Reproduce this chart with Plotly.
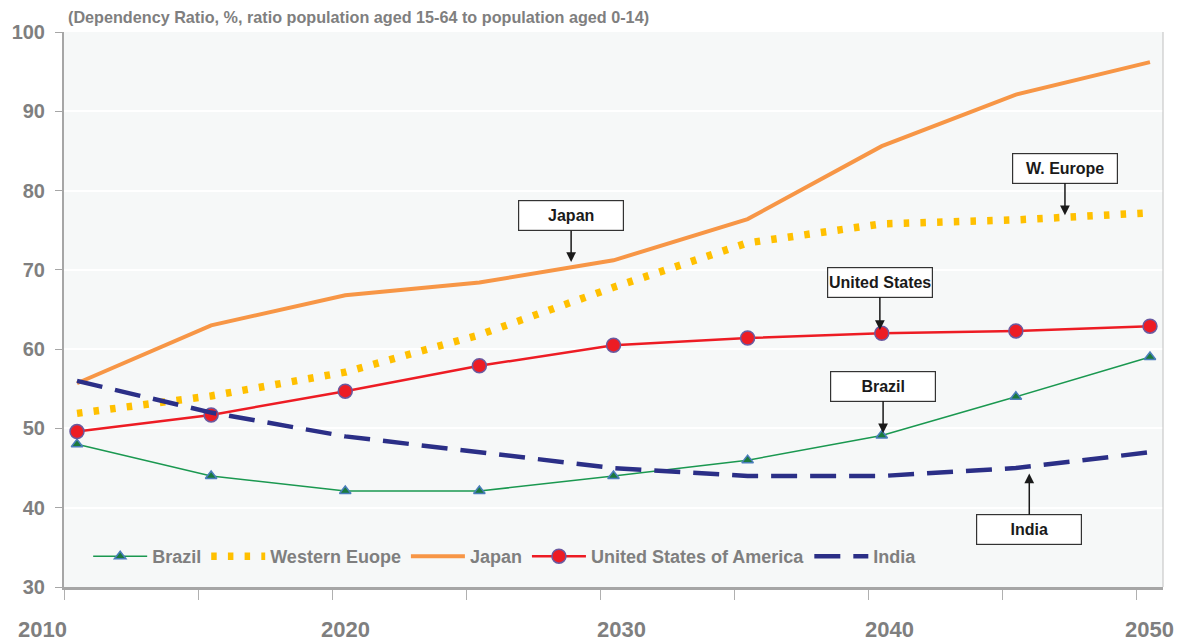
import plotly.graph_objects as go

years = [2010, 2015, 2020, 2025, 2030, 2035, 2040, 2045, 2050]
brazil = [48.0, 44.0, 42.1, 42.1, 44.0, 46.0, 49.1, 54.0, 59.0]
w_europe = [51.9, 54.1, 57.1, 61.8, 67.8, 73.4, 75.8, 76.3, 77.2]
japan = [55.7, 63.0, 66.8, 68.4, 71.2, 76.4, 85.6, 92.1, 96.2]
usa = [49.6, 51.7, 54.7, 57.9, 60.5, 61.4, 62.0, 62.3, 62.9]
india = [56.0, 52.0, 49.0, 47.0, 45.0, 44.0, 44.0, 45.0, 47.0]

year_labels = ["2010", "2020", "2030", "2040", "2050"]
year_label_pos = [2008.7, 2020.0, 2030.3, 2040.3, 2050.0]
y_ticks = [30, 40, 50, 60, 70, 80, 90, 100]

title_text = "(Dependency Ratio, %, ratio population aged 15-64 to population aged 0-14)"

callouts = [
    ("Japan", 2028.42, 71.0, -46),
    ("W. Europe", 2046.83, 76.9, -47),
    ("United States", 2039.93, 62.4, -48),
    ("Brazil", 2040.05, 49.4, -47),
    ("India", 2045.5, 44.3, 56),
]

X_MIN, X_MAX = 2009.515, 2050.485

FONT = "Liberation Sans, Arial"
GRAY = "#7f7f7f"

fig = go.Figure()
fig.add_trace(go.Scatter(
    x=years, y=brazil, name="Brazil", mode="lines+markers",
    line=dict(color="#1a9850", width=1.5),
    marker=dict(symbol="triangle-up", size=10, color="#1a7a3c",
                line=dict(color="#4a7ebb", width=1.5))))
fig.add_trace(go.Scatter(
    x=years, y=w_europe, name="Western Euope", mode="lines",
    line=dict(color="#ffc000", width=7.5, dash="5.5px,11.2px")))
fig.add_trace(go.Scatter(
    x=years, y=japan, name="Japan", mode="lines",
    line=dict(color="#f79646", width=4)))
fig.add_trace(go.Scatter(
    x=years, y=usa, name="United States of America", mode="lines+markers",
    line=dict(color="#ed1c24", width=2.5),
    marker=dict(symbol="circle", size=14, color="#ed1c24",
                line=dict(color="#6a5aa0", width=1.5))))
fig.add_trace(go.Scatter(
    x=years, y=india, name="India", mode="lines",
    line=dict(color="#2b2f87", width=4.5, dash="26px,13px")))

for text, x, y, ay in callouts:
    fig.add_annotation(
        x=x, y=y, xref="x", yref="y", text="<b>" + text + "</b>",
        showarrow=True, arrowhead=2, arrowsize=1.3, arrowwidth=1.5,
        arrowcolor="#1a1a1a", ax=0, ay=ay,
        font=dict(family="Liberation Sans, Arial", size=16, color="#1a1a1a"),
        bgcolor="white", bordercolor="#333333", borderwidth=1.2,
        width=102, height=27, align="center")

for lab, pos in zip(year_labels, year_label_pos):
    fig.add_annotation(
        x=(pos - X_MIN) / (X_MAX - X_MIN), y=-0.077, xref="paper", yref="paper",
        text="<b>" + lab + "</b>", showarrow=False, xanchor="center", yanchor="middle",
        font=dict(family=FONT, size=22, color=GRAY))

fig.add_annotation(
    x=0.0, y=1.0, xref="paper", yref="paper", xanchor="left", yanchor="bottom",
    xshift=2, yshift=4, text="<b>" + title_text + "</b>", showarrow=False,
    font=dict(family=FONT, size=16.2, color=GRAY))

# right border of the plot area
fig.add_shape(type="line", xref="paper", yref="paper", x0=1, x1=1, y0=0, y1=1,
              line=dict(color="#c0c0c0", width=1))

x_tick_marks = [X_MIN + 5 * k for k in range(9)]

# page body adds an 8px offset, so the figure is 8px smaller than the window
fig.update_layout(
    width=1179, height=634,
    margin=dict(l=56, r=24, t=24, b=55, autoexpand=False),
    paper_bgcolor="white", plot_bgcolor="#f6f8f8",
    font=dict(family=FONT, color=GRAY),
    showlegend=True,
    legend=dict(orientation="h", x=0.022, y=0.055, xanchor="left", yanchor="middle",
                bgcolor="rgba(0,0,0,0)",
                font=dict(family=FONT, size=18, color=GRAY, weight="bold"),
                itemwidth=54, tracegroupgap=0),
    xaxis=dict(range=[X_MIN, X_MAX], tickvals=x_tick_marks,
               ticktext=[""] * len(x_tick_marks), ticks="outside", ticklen=10,
               tickcolor="#b0b0b0", showgrid=False, zeroline=False, automargin=False,
               showline=True, linecolor="#a6a6a6", linewidth=3),
    yaxis=dict(range=[30, 100], tickvals=y_ticks, ticks="outside", ticklen=7,
               tickcolor="#a6a6a6", showgrid=True, gridcolor="white", gridwidth=1.5,
               zeroline=False, showline=True, linecolor="#a6a6a6", linewidth=2,
               automargin=False, ticklabelstandoff=6,
               tickfont=dict(family=FONT, size=20, color=GRAY, weight="bold")),
)

fig.write_html("out.html")
